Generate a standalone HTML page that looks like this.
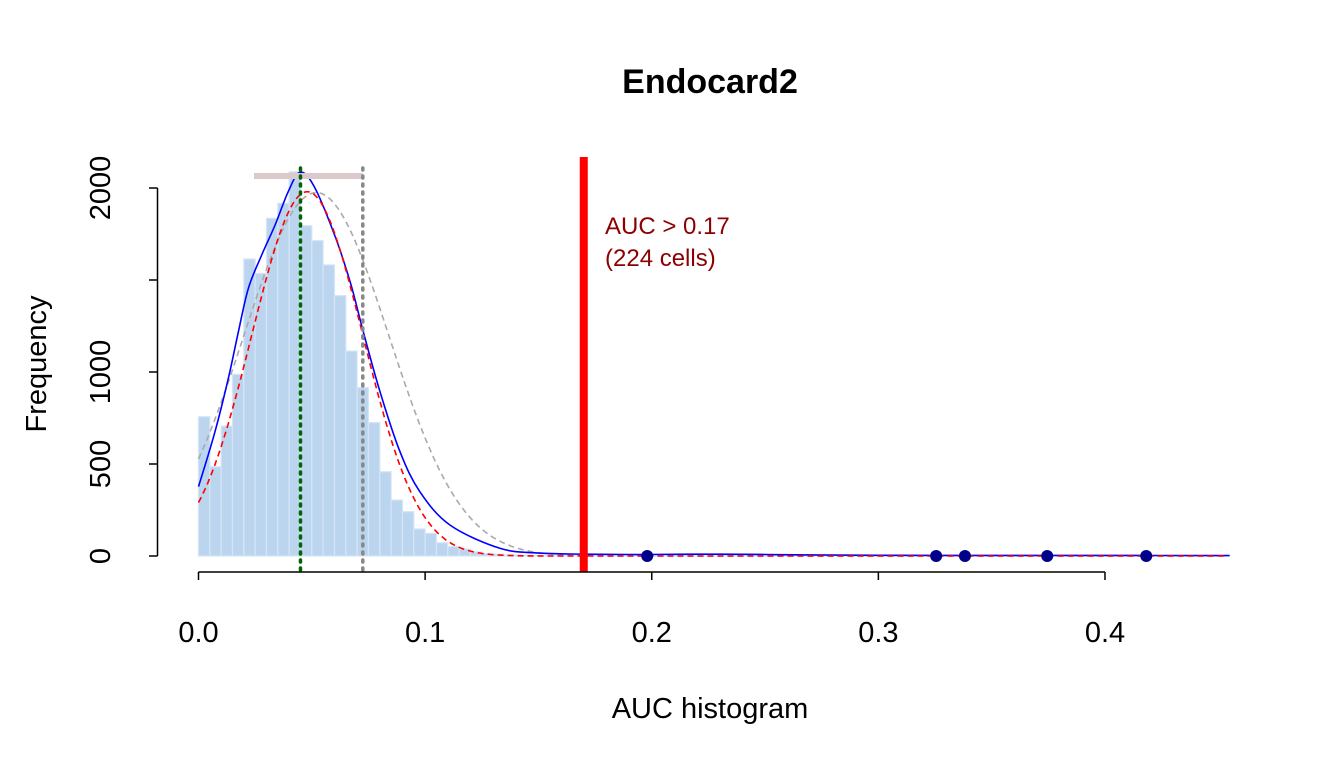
<!DOCTYPE html>
<html><head><meta charset="utf-8"><style>
html,body{margin:0;padding:0;background:#fff;}
svg{display:block;font-family:"Liberation Sans",Arial,sans-serif;}
</style></head><body>
<svg id="chart" width="1344" height="768" viewBox="0 0 1344 768">
<text x="710" y="93" font-size="34" font-weight="bold" text-anchor="middle">Endocard2</text>
<text x="710" y="718" font-size="29" text-anchor="middle">AUC histogram</text>
<text transform="translate(46,364) rotate(-90)" font-size="29" text-anchor="middle">Frequency</text>
<g id="bars"></g>
<g id="curves"></g>
<g id="marks"></g>
<g id="axes"></g>
</svg>
<script>
const binWidth = 0.005;
const binStart = 0;
const counts = [757,485,706,987,1614,1536,1835,1917,2088,1795,1714,1582,1415,1114,915,725,458,304,241,147,123,72,51,38,22,14,10,6,4,3,2,2,1,1,1,1,1,1,1,1,1,1,1,1,1,1,1,1,1,1,1,1,1,1,1,1,1,1,1,1,1,1,1,1,1,1,1,1,1,1,1,1,1,1,1,1,1,1,1,1,1,1,1,1,1,1,1,1,1,1,1];
const densityX = [0,0.0073,0.0132,0.0176,0.022,0.0279,0.0338,0.0396,0.0447,0.0507,0.0595,0.0669,0.0727,0.0801,0.0889,0.0977,0.111,0.133,0.15,0.17,0.19,0.21,0.23,0.25,0.27,0.3,0.35,0.4,0.455];
const densityY = [377,676,967,1219,1455,1636,1799,1980,2085,2016,1763,1491,1219,893,567,349,168,42,16,10,8,9,10,8,6,4,3,3,2];
const outliers = [0.198, 0.3255, 0.3382, 0.3745, 0.4182];
const threshold = 0.17;
const modeLine = 0.045;
const meanLine = 0.0725;
const rangeBar = [0.0245, 0.0725];
const redFit = {mean:0.048, sd:0.0245, peak:1980};
const greyFit = {mean:0.052, sd:0.032, peak:1975};
const xTicks = [0, 0.1, 0.2, 0.3, 0.4];
const xTickLabels = ["0.0","0.1","0.2","0.3","0.4"];
const yTicks = [0, 500, 1000, 1500, 2000];
const yTickLabels = ["0","500","1000","","2000"];

const NS = "http://www.w3.org/2000/svg";
const X = v => 198.5 + v * (1105 - 198.5) / 0.4;
const Y = v => 556 - v * (556 - 188) / 2000;
function mk(tag, attrs, parent){const e=document.createElementNS(NS,tag);for(const k in attrs)e.setAttribute(k,attrs[k]);parent.appendChild(e);return e;}

const bars = document.getElementById('bars');
counts.forEach((c,i)=>{
  const x0 = X(binStart + i*binWidth), x1 = X(binStart + (i+1)*binWidth);
  const r = mk('rect',{x:x0,y:Y(c),width:x1-x0,height:Y(0)-Y(c),fill:'#bcd5ef',stroke:'#d4e5f7','stroke-width':1.2},bars);
  
  
});

const curves = document.getElementById('curves');
function pathFrom(fn){let d='';for(let v=0;v<=0.455;v+=0.001){d+=(d?'L':'M')+X(v).toFixed(1)+','+Y(fn(v)).toFixed(1);}return d;}
const gauss = p => v => p.peak*Math.exp(-0.5*Math.pow((v-p.mean)/p.sd,2));
function smoothPath(xs, ys){
  const pts = xs.map((x,i)=>[X(x),Y(ys[i])]);
  let d = 'M'+pts[0][0].toFixed(1)+','+pts[0][1].toFixed(1);
  for(let i=0;i<pts.length-1;i++){
    const p0=pts[i-1]||pts[i], p1=pts[i], p2=pts[i+1], p3=pts[i+2]||p2;
    const c1=[p1[0]+(p2[0]-p0[0])/6,p1[1]+(p2[1]-p0[1])/6];
    const c2=[p2[0]-(p3[0]-p1[0])/6,p2[1]-(p3[1]-p1[1])/6];
    d+=`C${c1[0].toFixed(1)},${c1[1].toFixed(1)} ${c2[0].toFixed(1)},${c2[1].toFixed(1)} ${p2[0].toFixed(1)},${p2[1].toFixed(1)}`;
  }
  return d;
}
const g = mk('path',{d:pathFrom(gauss(greyFit)),fill:'none',stroke:'#aaaaaa','stroke-width':1.6,'stroke-dasharray':'6,4'},curves);


const b = mk('path',{d:smoothPath(densityX,densityY),fill:'none',stroke:'#0000ff','stroke-width':1.6},curves);


const r = mk('path',{d:pathFrom(gauss(redFit)),fill:'none',stroke:'#ff0000','stroke-width':1.6,'stroke-dasharray':'6,4'},curves);



const marks = document.getElementById('marks');
const rb = mk('line',{x1:X(rangeBar[0]),x2:X(rangeBar[1]),y1:176,y2:176,stroke:'#dcc9c9','stroke-width':6},marks);


const gl = mk('line',{x1:X(modeLine),x2:X(modeLine),y1:168,y2:571,stroke:'#006400','stroke-width':3.5,'stroke-dasharray':'2,6','stroke-linecap':'round'},marks);


const ml = mk('line',{x1:X(meanLine),x2:X(meanLine),y1:168,y2:571,stroke:'#888888','stroke-width':3.5,'stroke-dasharray':'2,6','stroke-linecap':'round'},marks);


outliers.forEach(o=>{
  const c = mk('circle',{cx:X(o),cy:556,r:6,fill:'#00008b'},marks);
  
  
});
const tl = mk('line',{x1:X(threshold),x2:X(threshold),y1:157,y2:572,stroke:'#ff0000','stroke-width':8},marks);


const t1 = mk('text',{x:605,y:234,'font-size':24,fill:'#8b0000'},marks);
t1.textContent = 'AUC > ' + threshold;


const t2 = mk('text',{x:605,y:266,'font-size':24,fill:'#8b0000'},marks);
t2.textContent = '(224 cells)';



const axes = document.getElementById('axes');
mk('line',{x1:X(xTicks[0]),x2:X(xTicks[xTicks.length-1]),y1:572,y2:572,stroke:'#000','stroke-width':1.5},axes);
xTicks.forEach((t,i)=>{
  mk('line',{x1:X(t),x2:X(t),y1:572,y2:580,stroke:'#000','stroke-width':1.5},axes);
  const tx = mk('text',{x:X(t),y:642,'font-size':29,'text-anchor':'middle'},axes);
  tx.textContent = xTickLabels[i];
  
  
});
mk('line',{x1:157.5,x2:157.5,y1:Y(yTicks[0]),y2:Y(yTicks[yTicks.length-1]),stroke:'#000','stroke-width':1.5},axes);
yTicks.forEach((t,i)=>{
  mk('line',{x1:149,x2:157.5,y1:Y(t),y2:Y(t),stroke:'#000','stroke-width':1.5},axes);
  if(yTickLabels[i]){
    const ty = mk('text',{transform:`translate(110,${Y(t)}) rotate(-90)`,'font-size':29,'text-anchor':'middle'},axes);
    ty.textContent = yTickLabels[i];
    
    
  }
});
</script>
</body></html>
